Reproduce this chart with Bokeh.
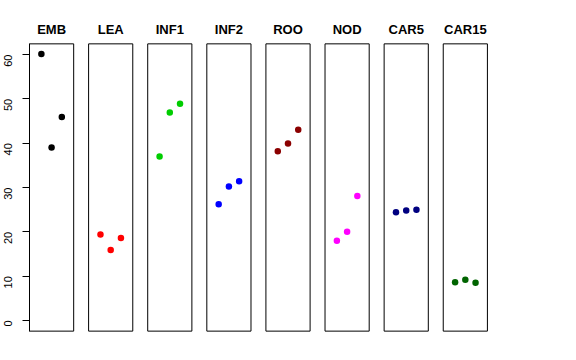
import math
from bokeh.plotting import figure
from bokeh.models import LinearAxis, FixedTicker, Range1d
from bokeh.core.properties import value
from bokeh.embed import file_html
from bokeh.resources import INLINE

# ---- data ----
groups = ["EMB", "LEA", "INF1", "INF2", "ROO", "NOD", "CAR5", "CAR15"]
colors = ["#000000", "#FF0000", "#00CD00", "#0000FF", "#8B0000", "#FF00FF", "#000080", "#006400"]
EMB = [60.1, 39.0, 45.9]
LEA = [19.4, 15.9, 18.6]
INF1 = [37.0, 46.9, 48.9]
INF2 = [26.2, 30.2, 31.4]
ROO = [38.2, 39.9, 43.0]
NOD = [18.0, 20.0, 28.1]
CAR5 = [24.4, 24.8, 25.0]
CAR15 = [8.6, 9.2, 8.5]
series = [EMB, LEA, INF1, INF2, ROO, NOD, CAR5, CAR15]
y_ticks = [0, 10, 20, 30, 40, 50, 60]

# ---- layout parameters ----
stride = 5.78          # panel spacing in data units
x_lo, x_hi = -0.16, 4.16
y_lo, y_hi = -2.4, 62.4

p = figure(width=560, height=344, output_backend="svg", toolbar_location=None,
           x_axis_type=None, y_axis_type=None,
           x_range=Range1d(-0.16, 45.02), y_range=Range1d(-3.158, 68.57),
           min_border_left=37, min_border_right=61, min_border_top=16, min_border_bottom=10,
           margin=(0, 0, 0, -8))
p.outline_line_color = None
p.background_fill_color = "white"
p.border_fill_color = "white"

# panel boxes
lefts = [i * stride + x_lo for i in range(len(groups))]
rights = [i * stride + x_hi for i in range(len(groups))]
p.quad(left=lefts, right=rights, bottom=[y_lo] * len(groups), top=[y_hi] * len(groups),
       fill_color=None, line_color="black", line_width=1)

# points
xs, ys, cs = [], [], []
for i, vals in enumerate(series):
    for j, v in enumerate(vals):
        xs.append(i * stride + j + 1)
        ys.append(v)
        cs.append(colors[i])
p.scatter(x=xs, y=ys, color=cs, size=6.5, line_width=0)

# titles
p.text(x=[i * stride + 2 for i in range(len(groups))], y=[65.6] * len(groups), text=groups,
       text_align="center", text_baseline="alphabetic",
       text_font=value("Liberation Sans"), text_font_style="bold", text_font_size="13px",
       text_color="black")

# y axis
ax = LinearAxis(ticker=FixedTicker(ticks=y_ticks), bounds=(y_lo, y_hi))
ax.axis_line_color = "black"
ax.major_tick_line_color = "black"
ax.major_tick_out = 7
ax.major_tick_in = 0
ax.minor_tick_line_color = None
ax.major_label_orientation = math.pi / 2
ax.major_label_standoff = 14
ax.major_label_text_font = "Liberation Sans"
ax.major_label_text_font_size = "11px"
ax.major_label_text_color = "black"
p.add_layout(ax, "left")

open("out.html", "w").write(file_html(p, INLINE))
